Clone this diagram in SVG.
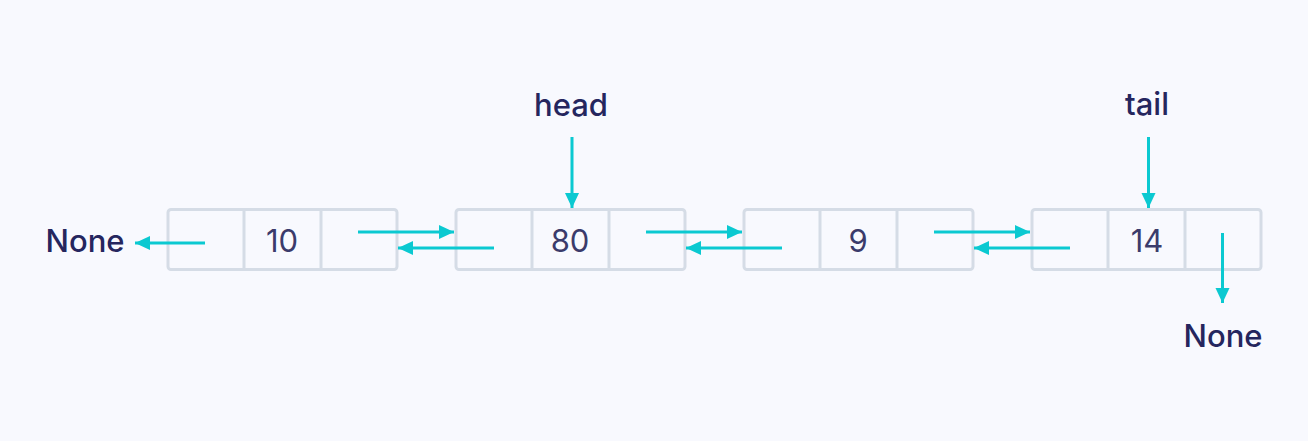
<svg xmlns="http://www.w3.org/2000/svg" width="1308" height="441" viewBox="0 0 1308 441">
<style>
.cell{fill:none;stroke:#d5dce6;stroke-width:3}
.box{fill:none;stroke:#d5dce6;stroke-width:3}
.val{font-family:Inter,"Liberation Sans",sans-serif;font-size:31px;fill:#3b3b6b;text-anchor:middle}
.lbl{font-family:Inter,"Liberation Sans",sans-serif;font-size:31px;font-weight:500;fill:#25265e;text-anchor:middle}
.arr{stroke:#0bc9d1;stroke-width:3;fill:none;marker-end:url(#ah)}
</style>
<defs>
<marker id="ah" markerUnits="userSpaceOnUse" markerWidth="16" markerHeight="16" viewBox="0 0 16 16" refX="15" refY="8" orient="auto">
<path d="M0,1 L15,8 L0,15 Z" fill="#0bc9d1"/>
</marker>
</defs>
<rect width="1308" height="441" fill="#f8f9fe"/>
<g id="node1">
<rect class="box" x="168" y="209.5" width="229" height="60" rx="3"/>
<line class="cell" x1="244" y1="209.5" x2="244" y2="269.5"/>
<line class="cell" x1="321" y1="209.5" x2="321" y2="269.5"/>
<text class="val" x="282" y="252">10</text>
</g>
<g id="node2">
<rect class="box" x="456" y="209.5" width="229" height="60" rx="3"/>
<line class="cell" x1="532" y1="209.5" x2="532" y2="269.5"/>
<line class="cell" x1="609" y1="209.5" x2="609" y2="269.5"/>
<text class="val" x="570" y="252">80</text>
</g>
<g id="node3">
<rect class="box" x="744" y="209.5" width="229" height="60" rx="3"/>
<line class="cell" x1="820" y1="209.5" x2="820" y2="269.5"/>
<line class="cell" x1="897" y1="209.5" x2="897" y2="269.5"/>
<text class="val" x="858" y="252">9</text>
</g>
<g id="node4">
<rect class="box" x="1032" y="209.5" width="229" height="60" rx="3"/>
<line class="cell" x1="1108" y1="209.5" x2="1108" y2="269.5"/>
<line class="cell" x1="1185" y1="209.5" x2="1185" y2="269.5"/>
<text class="val" x="1147" y="252">14</text>
</g>
<g id="labels">
<text class="lbl" x="85" y="252">None</text>
<text class="lbl" x="571" y="116">head</text>
<text class="lbl" x="1147" y="115">tail</text>
<text class="lbl" x="1223" y="347">None</text>
</g>
<g id="connectors">
<line class="arr" x1="205" y1="243" x2="135" y2="243"/>
<line class="arr" x1="358" y1="232" x2="454" y2="232"/>
<line class="arr" x1="494" y1="248" x2="398" y2="248"/>
<line class="arr" x1="646" y1="232" x2="742" y2="232"/>
<line class="arr" x1="782" y1="248" x2="686" y2="248"/>
<line class="arr" x1="934" y1="232" x2="1030" y2="232"/>
<line class="arr" x1="1070" y1="248" x2="974" y2="248"/>
<line class="arr" x1="572" y1="137" x2="572" y2="208"/>
<line class="arr" x1="1148.5" y1="137" x2="1148.5" y2="208"/>
<line class="arr" x1="1222.5" y1="233" x2="1222.5" y2="303"/>
</g>
</svg>
